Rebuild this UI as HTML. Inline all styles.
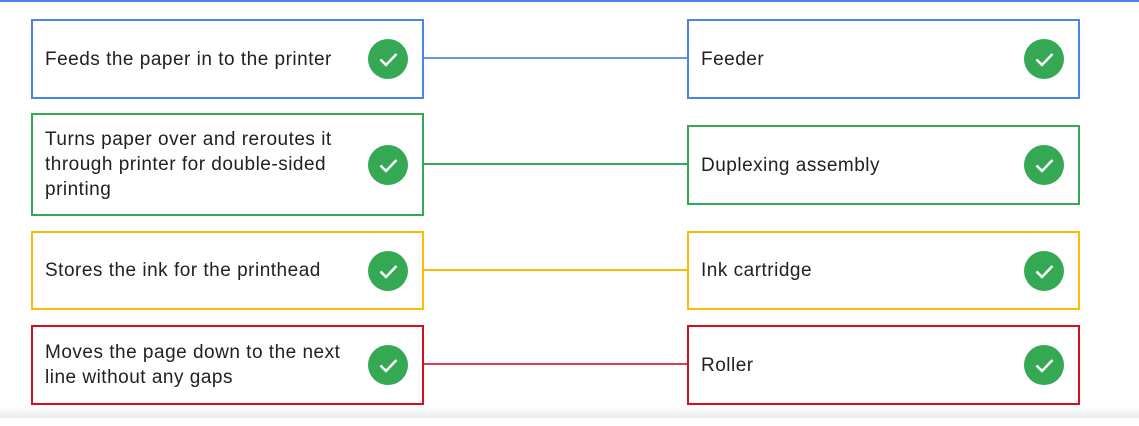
<!DOCTYPE html>
<html><head><meta charset="utf-8"><style>
html,body{margin:0;padding:0;width:1139px;height:426px;background:#fff;overflow:hidden;position:relative;font-family:"Liberation Sans",sans-serif;}
.top{position:absolute;left:0;top:0;width:1139px;height:2px;background:#4a86e8;}
.bot{position:absolute;left:0;top:406px;width:1139px;height:12px;background:linear-gradient(#fff,#ececec);}
.box{position:absolute;box-sizing:border-box;border:2px solid;background:#fff;display:flex;align-items:center;padding-left:12px;font-size:19px;line-height:25px;color:#202124;letter-spacing:0.5px;}
.box span{width:308px;}
.chk{position:absolute;width:40px;height:40px;border-radius:50%;background:#34a853;top:50%;margin-top:-20px;}
.chk svg{position:absolute;left:0;top:0;}
.line{position:absolute;height:2px;left:423px;width:265px;}
</style></head><body>
<div class="top"></div>
<div class="bot"></div>

<div class="line" style="top:57px;background:#4a86e8;opacity:.85"></div>
<div class="line" style="top:163px;background:#34a853"></div>
<div class="line" style="top:269px;background:#fbbc04"></div>
<div class="line" style="top:363px;background:#d50f1f;opacity:.8"></div>

<div class="box" style="left:31px;top:19px;width:393px;height:80px;border-color:#4a86e8"><span>Feeds the paper in to the printer</span><div class="chk" style="left:335px"><svg width="40" height="40"><path d="M12.5 20.5l5.5 5.5 10.5-11" fill="none" stroke="#fff" stroke-width="2.5"/></svg></div></div>
<div class="box" style="left:31px;top:113px;width:393px;height:103px;border-color:#34a853"><span>Turns paper over and reroutes it through printer for double-sided printing</span><div class="chk" style="left:335px"><svg width="40" height="40"><path d="M12.5 20.5l5.5 5.5 10.5-11" fill="none" stroke="#fff" stroke-width="2.5"/></svg></div></div>
<div class="box" style="left:31px;top:231px;width:393px;height:79px;border-color:#fbbc04"><span>Stores the ink for the printhead</span><div class="chk" style="left:335px"><svg width="40" height="40"><path d="M12.5 20.5l5.5 5.5 10.5-11" fill="none" stroke="#fff" stroke-width="2.5"/></svg></div></div>
<div class="box" style="left:31px;top:325px;width:393px;height:80px;border-color:#d50f1f"><span>Moves the page down to the next line without any gaps</span><div class="chk" style="left:335px"><svg width="40" height="40"><path d="M12.5 20.5l5.5 5.5 10.5-11" fill="none" stroke="#fff" stroke-width="2.5"/></svg></div></div>

<div class="box" style="left:687px;top:19px;width:393px;height:80px;border-color:#4a86e8"><span>Feeder</span><div class="chk" style="left:335px"><svg width="40" height="40"><path d="M12.5 20.5l5.5 5.5 10.5-11" fill="none" stroke="#fff" stroke-width="2.5"/></svg></div></div>
<div class="box" style="left:687px;top:125px;width:393px;height:80px;border-color:#34a853"><span>Duplexing assembly</span><div class="chk" style="left:335px"><svg width="40" height="40"><path d="M12.5 20.5l5.5 5.5 10.5-11" fill="none" stroke="#fff" stroke-width="2.5"/></svg></div></div>
<div class="box" style="left:687px;top:231px;width:393px;height:79px;border-color:#fbbc04"><span>Ink cartridge</span><div class="chk" style="left:335px"><svg width="40" height="40"><path d="M12.5 20.5l5.5 5.5 10.5-11" fill="none" stroke="#fff" stroke-width="2.5"/></svg></div></div>
<div class="box" style="left:687px;top:325px;width:393px;height:80px;border-color:#d50f1f"><span>Roller</span><div class="chk" style="left:335px"><svg width="40" height="40"><path d="M12.5 20.5l5.5 5.5 10.5-11" fill="none" stroke="#fff" stroke-width="2.5"/></svg></div></div>
</body></html>
